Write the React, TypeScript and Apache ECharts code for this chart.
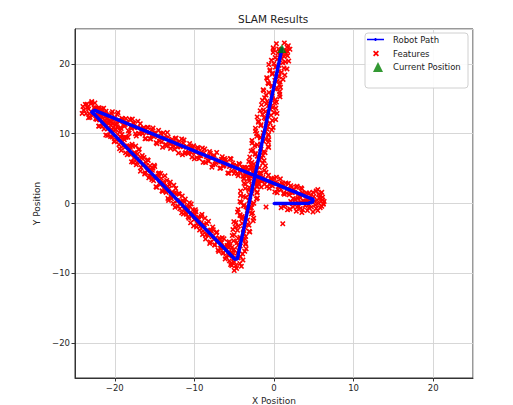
import React, { useEffect, useRef } from "react";
import * as echarts from "echarts";

// Robot path vertices (x, y)
const robotPath: number[][] = [
  [0, 0], [4.4, 0.05], [4.85, 0.25], [4.9, 0.6], [-22.5, 13.35], [-22.9, 13.1], [-22.6, 12.8],
  [-4.95, -7.95], [-4.6, -7.9], [1.0, 22.2],
];

const currentPosition: number[][] = [[1.0, 22.2]];

const featuresLegA: number[][] = [
  [4.4, 1.49], [4.2, 0.38], [4.0, 1.07], [3.8, 0.16], [3.6, 1.55], [3.4, 2.25], [3.2, 1.14], [3.0, 0.73],
  [2.8, 2.32], [2.6, 1.61], [2.4, 0.71], [2.2, 2.30], [2.0, 1.59], [1.8, 2.88], [1.6, 1.47], [1.4, 2.37],
  [1.2, 1.46], [1.0, 2.95], [0.8, 3.54], [0.6, 2.43], [0.4, 1.53], [0.2, 3.02], [0.0, 3.61], [-0.2, 2.50],
  [-0.4, 3.49], [-0.6, 2.19], [-0.8, 3.18], [-1.0, 4.47], [-1.2, 2.76], [-1.4, 3.75], [-1.6, 2.35], [-1.8, 4.34],
  [-2.0, 3.23], [-2.2, 3.92], [-2.4, 3.01], [-2.6, 4.41], [-2.8, 5.10], [-3.0, 3.99], [-3.2, 3.58], [-3.4, 5.17],
  [-3.6, 4.47], [-3.8, 3.56], [-4.0, 5.15], [-4.2, 4.44], [-4.4, 5.73], [-4.6, 4.33], [-4.8, 5.22], [-5.0, 4.31],
  [-5.2, 5.80], [-5.4, 6.39], [-5.6, 5.29], [-5.8, 4.38], [-6.0, 5.87], [-6.2, 6.46], [-6.4, 5.35], [-6.6, 6.35],
  [-6.8, 5.04], [-7.0, 6.03], [-7.2, 7.32], [-7.4, 5.61], [-7.6, 6.61], [-7.8, 5.20], [-8.0, 7.19], [-8.2, 6.08],
  [-8.4, 6.77], [-8.6, 5.87], [-8.8, 7.26], [-9.0, 7.95], [-9.2, 6.84], [-9.4, 6.43], [-9.6, 8.03], [-9.8, 7.32],
  [-10.0, 6.41], [-10.2, 8.00], [-10.4, 7.29], [-10.6, 8.59], [-10.8, 7.18], [-11.0, 8.07], [-11.2, 7.16], [-11.4, 8.65],
  [-11.6, 9.25], [-11.8, 8.14], [-12.0, 7.23], [-12.2, 8.72], [-12.4, 9.31], [-12.6, 8.21], [-12.8, 9.20], [-13.0, 7.89],
  [-13.2, 8.88], [-13.4, 10.17], [-13.6, 8.47], [-13.8, 9.46], [-14.0, 8.05], [-14.2, 10.04], [-14.4, 8.93], [-14.6, 9.63],
  [-14.8, 8.72], [-15.0, 10.11], [-15.2, 10.80], [-15.4, 9.69], [-15.6, 9.29], [-15.8, 10.88], [-16.0, 10.17], [-16.2, 9.26],
  [-16.4, 10.85], [-16.6, 10.15], [-16.8, 11.44], [-17.0, 10.03], [-17.2, 10.92], [-17.4, 10.01], [-17.6, 11.51], [-17.8, 12.10],
  [-18.0, 10.99], [-18.2, 10.08], [-18.4, 11.57], [-18.6, 12.17], [-18.8, 11.06], [-19.0, 12.05], [-19.2, 10.74], [-19.4, 11.73],
  [-19.6, 13.03], [-19.8, 11.32], [-20.0, 12.31], [-20.2, 10.90], [-20.4, 12.89], [-20.6, 11.79], [-20.8, 12.48], [-21.0, 11.57],
  [-21.2, 12.96], [-21.4, 13.65], [-21.6, 12.55], [-21.8, 12.14], [-22.0, 13.73], [-22.2, 13.02], [-22.4, 12.11], [-22.6, 13.71],
  [-22.8, 13.00], [-23.0, 14.29], [-23.2, 12.88], [-23.4, 13.77], [-23.6, 12.87],
  [-23.9, 13.4], [-24.1, 12.9], [-23.7, 14.2], [-22.9, 14.6], [-23.3, 12.3], [-24.0, 13.9], [-22.5, 14.4],
  [4.3, 0.53], [4.1, 1.52], [3.9, 0.22], [3.7, 1.31], [3.5, 2.10], [3.3, 0.79], [3.1, 1.38], [2.9, 2.48],
  [2.7, 0.57], [2.5, 2.06], [2.3, 1.55], [2.1, 2.54], [1.9, 1.24], [1.7, 2.13], [1.5, 2.92], [1.3, 1.31],
  [1.1, 2.80], [0.9, 2.00], [0.7, 2.79], [0.5, 1.98], [0.3, 3.77], [0.1, 1.66], [-0.1, 2.86], [-0.3, 3.55],
  [-0.5, 2.74], [-0.7, 4.03], [-0.9, 2.42], [-1.1, 3.52], [-1.3, 3.31], [-1.5, 3.20], [-1.7, 4.19], [-1.9, 2.88],
  [-2.1, 3.98], [-2.3, 4.77], [-2.5, 3.46], [-2.7, 4.05], [-2.9, 5.14], [-3.1, 3.24], [-3.3, 4.73], [-3.5, 4.22],
  [-3.7, 5.21], [-3.9, 3.90], [-4.1, 4.80], [-4.3, 5.59], [-4.5, 3.98], [-4.7, 5.47], [-4.9, 4.66], [-5.1, 5.46],
  [-5.3, 4.65], [-5.5, 6.44], [-5.7, 4.33], [-5.9, 5.52], [-6.1, 6.22], [-6.3, 5.41], [-6.5, 6.70], [-6.7, 5.09],
  [-6.9, 6.18], [-7.1, 5.98], [-7.3, 5.87], [-7.5, 6.86], [-7.7, 5.55], [-7.9, 6.64], [-8.1, 7.44], [-8.3, 6.13],
  [-8.5, 6.72], [-8.7, 7.81], [-8.9, 5.90], [-9.1, 7.40], [-9.3, 6.89], [-9.5, 7.88], [-9.7, 6.57], [-9.9, 7.46],
  [-10.1, 8.26], [-10.3, 6.65], [-10.5, 8.14], [-10.7, 7.33], [-10.9, 8.12], [-11.1, 7.32], [-11.3, 9.11], [-11.5, 7.00],
  [-11.7, 8.19], [-11.9, 8.88], [-12.1, 8.08], [-12.3, 9.37], [-12.5, 7.76], [-12.7, 8.85], [-12.9, 8.64], [-13.1, 8.54],
  [-13.3, 9.53], [-13.5, 8.22], [-13.7, 9.31], [-13.9, 10.10], [-14.1, 8.80], [-14.3, 9.39], [-14.5, 10.48], [-14.7, 8.57],
  [-14.9, 10.06], [-15.1, 9.56], [-15.3, 10.55], [-15.5, 9.24], [-15.7, 10.13], [-15.9, 10.92], [-16.1, 9.32], [-16.3, 10.81],
  [-16.5, 10.00], [-16.7, 10.79], [-16.9, 9.98], [-17.1, 11.78], [-17.3, 9.67], [-17.5, 10.86], [-17.7, 11.55], [-17.9, 10.74],
  [-18.1, 12.04], [-18.3, 10.43], [-18.5, 11.52], [-18.7, 11.31], [-18.9, 11.20], [-19.1, 12.20], [-19.3, 10.89], [-19.5, 11.98],
  [-19.7, 12.77], [-19.9, 11.46], [-20.1, 12.06], [-20.3, 13.15], [-20.5, 11.24], [-20.7, 12.73], [-20.9, 12.22], [-21.1, 13.22],
  [-21.3, 11.91], [-21.5, 12.80], [-21.7, 13.59], [-21.9, 11.98], [-22.1, 13.48], [-22.3, 12.67], [-22.5, 13.46], [-22.7, 12.65],
  [-22.9, 14.44], [-23.1, 12.34], [-23.3, 13.53], [-23.5, 14.22],
];

const featuresLegB: number[][] = [
  [-22.4, 13.72], [-22.25, 12.05], [-22.1, 12.67], [-21.95, 11.09], [-21.8, 12.61], [-21.65, 13.23], [-21.5, 11.45], [-21.35, 10.67],
  [-21.2, 12.40], [-21.05, 11.22], [-20.9, 9.74], [-20.75, 11.46], [-20.6, 10.28], [-20.45, 11.70], [-20.3, 9.53], [-20.15, 10.45],
  [-20.0, 8.97], [-19.85, 10.59], [-19.7, 11.01], [-19.55, 9.33], [-19.4, 7.85], [-19.25, 9.48], [-19.1, 9.90], [-18.95, 8.22],
  [-18.8, 9.14], [-18.65, 7.26], [-18.5, 8.28], [-18.35, 9.50], [-18.2, 7.13], [-18.05, 8.05], [-17.9, 5.97], [-17.75, 8.19],
  [-17.6, 6.51], [-17.45, 7.13], [-17.3, 5.56], [-17.15, 7.08], [-17.0, 7.70], [-16.85, 5.92], [-16.7, 5.14], [-16.55, 6.86],
  [-16.4, 5.68], [-16.25, 4.21], [-16.1, 5.93], [-15.95, 4.75], [-15.8, 6.17], [-15.65, 3.99], [-15.5, 4.91], [-15.35, 3.43],
  [-15.2, 5.06], [-15.05, 5.48], [-14.9, 3.80], [-14.75, 2.32], [-14.6, 3.94], [-14.45, 4.36], [-14.3, 2.69], [-14.15, 3.61],
  [-14.0, 1.73], [-13.85, 2.75], [-13.7, 3.97], [-13.55, 1.59], [-13.4, 2.51], [-13.25, 0.44], [-13.1, 2.66], [-12.95, 0.98],
  [-12.8, 1.60], [-12.65, 0.02], [-12.5, 1.54], [-12.35, 2.16], [-12.2, 0.39], [-12.05, -0.39], [-11.9, 1.33], [-11.75, 0.15],
  [-11.6, -1.33], [-11.45, 0.39], [-11.3, -0.79], [-11.15, 0.64], [-11.0, -1.54], [-10.85, -0.62], [-10.7, -2.10], [-10.55, -0.48],
  [-10.4, -0.06], [-10.25, -1.73], [-10.1, -3.21], [-9.95, -1.59], [-9.8, -1.17], [-9.65, -2.85], [-9.5, -1.93], [-9.35, -3.81],
  [-9.2, -2.78], [-9.05, -1.56], [-8.9, -3.94], [-8.75, -3.02], [-8.6, -5.10], [-8.45, -2.88], [-8.3, -4.56], [-8.15, -3.93],
  [-8.0, -5.51], [-7.85, -3.99], [-7.7, -3.37], [-7.55, -5.15], [-7.4, -5.93], [-7.25, -4.20], [-7.1, -5.38], [-6.95, -6.86],
  [-6.8, -5.14], [-6.65, -6.32], [-6.5, -4.90], [-6.35, -7.08], [-6.2, -6.15], [-6.05, -7.63], [-5.9, -6.01], [-5.75, -5.59],
  [-5.6, -7.27], [-5.45, -8.75], [-5.3, -7.13], [-5.15, -6.70], [-5.0, -8.38],
  [-5.3, -8.9], [-4.7, -9.3], [-4.3, -8.6], [-5.0, -9.6], [-4.5, -7.8], [-5.6, -8.2], [-4.1, -9.0], [-3.9, -8.1], [-4.8, -8.9],
  [-22.33, 12.24], [-22.18, 13.66], [-22.03, 11.08], [-21.88, 12.50], [-21.73, 13.42], [-21.58, 11.04], [-21.43, 11.66], [-21.28, 12.99],
  [-21.13, 9.81], [-20.98, 11.73], [-20.83, 10.75], [-20.68, 11.77], [-20.53, 9.59], [-20.38, 10.62], [-20.23, 11.44], [-20.08, 8.86],
  [-19.93, 10.58], [-19.78, 9.10], [-19.63, 9.92], [-19.48, 8.44], [-19.33, 10.47], [-19.18, 7.59], [-19.03, 8.91], [-18.88, 9.43],
  [-18.73, 8.05], [-18.58, 9.47], [-18.43, 6.99], [-18.28, 8.22], [-18.13, 7.64], [-17.98, 7.06], [-17.83, 8.48], [-17.68, 5.90],
  [-17.53, 7.32], [-17.38, 8.24], [-17.23, 5.87], [-17.08, 6.49], [-16.93, 7.81], [-16.78, 4.63], [-16.63, 6.55], [-16.48, 5.57],
  [-16.33, 6.60], [-16.18, 4.42], [-16.03, 5.44], [-15.88, 6.26], [-15.73, 3.68], [-15.58, 5.40], [-15.43, 3.92], [-15.28, 4.75],
  [-15.13, 3.27], [-14.98, 5.29], [-14.83, 2.41], [-14.68, 3.73], [-14.53, 4.25], [-14.38, 2.88], [-14.23, 4.30], [-14.08, 1.82],
  [-13.93, 3.04], [-13.78, 2.46], [-13.63, 1.88], [-13.48, 3.30], [-13.33, 0.73], [-13.18, 2.15], [-13.03, 3.07], [-12.88, 0.69],
  [-12.73, 1.31], [-12.58, 2.63], [-12.43, -0.55], [-12.28, 1.38], [-12.13, 0.40], [-11.98, 1.42], [-11.83, -0.76], [-11.68, 0.26],
  [-11.53, 1.08], [-11.38, -1.50], [-11.23, 0.23], [-11.08, -1.25], [-10.93, -0.43], [-10.78, -1.91], [-10.63, 0.11], [-10.48, -2.77],
  [-10.33, -1.45], [-10.18, -0.92], [-10.03, -2.30], [-9.88, -0.88], [-9.73, -3.36], [-9.58, -2.14], [-9.43, -2.72], [-9.28, -3.29],
  [-9.13, -1.87], [-8.98, -4.45], [-8.83, -3.03], [-8.68, -2.11], [-8.53, -4.49], [-8.38, -3.87], [-8.23, -2.54], [-8.08, -5.72],
  [-7.93, -3.80], [-7.78, -4.78], [-7.63, -3.76], [-7.48, -5.94], [-7.33, -4.92], [-7.18, -4.09], [-7.03, -6.67], [-6.88, -4.95],
  [-6.73, -6.43], [-6.58, -5.61], [-6.43, -7.09], [-6.28, -5.06], [-6.13, -7.94], [-5.98, -6.62], [-5.83, -6.10], [-5.68, -7.48],
  [-5.53, -6.06], [-5.38, -8.54], [-5.23, -7.31], [-5.08, -7.89],
];

const featuresLegC: number[][] = [
  [-4.22, -7.6], [-5.57, -7.35], [-4.62, -7.1], [-3.68, -6.85], [-5.03, -6.6], [-5.68, -6.35], [-4.23, -6.1], [-3.58, -5.85],
  [-4.63, -5.6], [-5.08, -5.35], [-3.63, -5.1], [-4.28, -4.85], [-5.24, -4.6], [-3.79, -4.35], [-3.04, -4.1], [-4.59, -3.85],
  [-3.84, -3.6], [-4.89, -3.35], [-3.14, -3.1], [-3.99, -2.85], [-5.05, -2.6], [-3.30, -2.35], [-2.55, -2.1], [-4.00, -1.85],
  [-4.25, -1.6], [-2.70, -1.35], [-3.35, -1.1], [-4.50, -0.85], [-2.85, -0.6], [-3.81, -0.35], [-2.76, -0.1], [-4.11, 0.15],
  [-3.16, 0.4], [-2.21, 0.65], [-3.56, 0.9], [-4.21, 1.15], [-2.76, 1.4], [-2.11, 1.65], [-3.17, 1.9], [-3.62, 2.15],
  [-2.17, 2.4], [-2.82, 2.65], [-3.77, 2.9], [-2.32, 3.15], [-1.57, 3.4], [-3.12, 3.65], [-2.38, 3.9], [-3.43, 4.15],
  [-1.68, 4.4], [-2.53, 4.65], [-3.58, 4.9], [-1.83, 5.15], [-1.08, 5.4], [-2.53, 5.65], [-2.78, 5.9], [-1.24, 6.15],
  [-1.89, 6.4], [-3.04, 6.65], [-1.39, 6.9], [-2.34, 7.15], [-1.29, 7.4], [-2.64, 7.65], [-1.69, 7.9], [-0.74, 8.15],
  [-2.10, 8.4], [-2.75, 8.65], [-1.30, 8.9], [-0.65, 9.15], [-1.70, 9.4], [-2.15, 9.65], [-0.70, 9.9], [-1.35, 10.15],
  [-2.31, 10.4], [-0.86, 10.65], [-0.11, 10.9], [-1.66, 11.15], [-0.91, 11.4], [-1.96, 11.65], [-0.21, 11.9], [-1.06, 12.15],
  [-2.11, 12.4], [-0.37, 12.65], [0.38, 12.9], [-1.07, 13.15], [-1.32, 13.4], [0.23, 13.65], [-0.42, 13.9], [-1.57, 14.15],
  [0.08, 14.4], [-0.87, 14.65], [0.18, 14.9], [-1.18, 15.15], [-0.23, 15.4], [0.72, 15.65], [-0.63, 15.9], [-1.28, 16.15],
  [0.17, 16.4], [0.82, 16.65], [-0.23, 16.9], [-0.69, 17.15], [0.76, 17.4], [0.11, 17.65], [-0.84, 17.9], [0.61, 18.15],
  [1.36, 18.4], [-0.19, 18.65], [0.56, 18.9], [-0.50, 19.15], [1.25, 19.4], [0.40, 19.65], [-0.65, 19.9], [1.10, 20.15],
  [1.85, 20.4], [0.40, 20.65], [0.15, 20.9], [1.70, 21.15], [1.05, 21.4], [-0.11, 21.65], [1.54, 21.9], [0.59, 22.15],
  [1.64, 22.4],
  [1.8, 22.6], [0.3, 22.9], [1.3, 23.0], [0.7, 21.8], [2.0, 22.1], [-0.1, 22.3], [1.5, 21.6],
  [-5.20, -7.48], [-3.95, -7.23], [-5.70, -6.98], [-4.45, -6.73], [-3.50, -6.48], [-5.25, -6.23], [-4.50, -5.98], [-3.56, -5.73],
  [-5.61, -5.48], [-3.86, -5.23], [-4.51, -4.98], [-3.56, -4.73], [-5.01, -4.48], [-3.86, -4.23], [-3.11, -3.98], [-5.16, -3.73],
  [-3.62, -3.48], [-4.47, -3.23], [-3.32, -2.98], [-4.77, -2.73], [-2.62, -2.48], [-4.07, -2.23], [-3.62, -1.98], [-4.27, -1.73],
  [-2.83, -1.48], [-4.58, -1.23], [-3.33, -0.98], [-2.98, -0.73], [-3.53, -0.48], [-3.78, -0.23], [-2.53, 0.03], [-4.28, 0.28],
  [-3.03, 0.53], [-2.09, 0.78], [-3.84, 1.03], [-3.09, 1.28], [-2.14, 1.53], [-4.19, 1.78], [-2.44, 2.03], [-3.09, 2.28],
  [-2.14, 2.53], [-3.59, 2.78], [-2.45, 3.03], [-1.70, 3.28], [-3.75, 3.53], [-2.20, 3.78], [-3.05, 4.03], [-1.90, 4.28],
  [-3.35, 4.53], [-1.20, 4.78], [-2.66, 5.03], [-2.21, 5.28], [-2.86, 5.53], [-1.41, 5.78], [-3.16, 6.03], [-1.91, 6.28],
  [-1.56, 6.53], [-2.11, 6.78], [-2.36, 7.03], [-1.12, 7.28], [-2.87, 7.53], [-1.62, 7.78], [-0.67, 8.03], [-2.42, 8.28],
  [-1.67, 8.53], [-0.72, 8.78], [-2.77, 9.03], [-1.02, 9.28], [-1.68, 9.53], [-0.73, 9.78], [-2.18, 10.03], [-1.03, 10.28],
  [-0.28, 10.53], [-2.33, 10.78], [-0.78, 11.03], [-1.63, 11.28], [-0.49, 11.53], [-1.94, 11.78], [0.21, 12.03], [-1.24, 12.28],
  [-0.79, 12.53], [-1.44, 12.78], [0.01, 13.03], [-1.74, 13.28], [-0.49, 13.53], [-0.15, 13.78], [-0.70, 14.03], [-0.95, 14.28],
  [0.30, 14.53], [-1.45, 14.78], [-0.20, 15.03], [0.75, 15.28], [-1.00, 15.53], [-0.25, 15.78], [0.70, 16.03], [-1.36, 16.28],
  [0.39, 16.53], [-0.26, 16.78], [0.69, 17.03], [-0.76, 17.28], [0.39, 17.53], [1.14, 17.78], [-0.92, 18.03], [0.63, 18.28],
  [-0.22, 18.53], [0.93, 18.78], [-0.52, 19.03], [1.63, 19.28], [0.18, 19.53], [0.63, 19.78], [-0.02, 20.03], [1.43, 20.28],
  [-0.33, 20.53], [0.92, 20.78], [1.27, 21.03], [0.72, 21.28], [0.47, 21.53], [1.72, 21.78], [-0.03, 22.03],
];

const featuresStart: number[][] = [
  [0.9, -0.6], [1.4, -0.2], [1.7, -0.9], [2.1, 0.3], [2.4, -0.5], [2.8, -1.1], [3.0, 0.1], [3.3, -0.7],
  [3.7, 0.4], [3.9, -0.3], [4.2, -1.0], [4.5, 0.2], [4.7, -0.5], [5.0, 1.0], [5.2, -0.2], [5.4, 0.5],
  [5.6, 1.3], [5.8, -0.6], [5.9, 0.3], [6.1, 0.9], [6.2, -0.1], [6.1, 0.5], [5.5, -1.0], [4.9, -1.2],
  [6.0, 1.6], [5.3, 1.8], [4.6, 1.1], [6.2, 0.0], [3.5, -1.3], [2.6, 0.6],
  [1.2, -0.4], [2.0, -0.8], [2.3, 0.0], [3.1, -0.4], [3.6, -0.9], [4.0, 0.3], [4.4, -0.6], [4.8, 0.6],
  [5.1, 0.3], [5.7, 0.8], [5.3, -0.7], [6.3, 0.3], [5.8, 1.1], [4.3, -0.2], [3.4, 0.2], [2.9, -0.5],
  [5.6, 0.0], [6.0, -0.4], [4.9, 1.6], [5.5, 2.0],
];

const featuresOutliers: number[][] = [[-1.0, -0.5], [1.1, -2.9]];

const xTicks = [-20, -10, 0, 10, 20];
const yTicks = [-20, -10, 0, 10, 20];

const X_SYMBOL =
  "path://M0,2L2,0L5,3L8,0L10,2L7,5L10,8L8,10L5,7L2,10L0,8L3,5Z";
const LINE_ICON =
  "path://M0,4.3L17,4.3L17,5.7L0,5.7Z M7.3,5L7.8,3.6L9.2,3.6L9.7,5L9.2,6.4L7.8,6.4Z";

const FONT = "DejaVu Sans";
const fmt = (v: number) => (v < 0 ? "\u2212" + Math.abs(v) : String(v));

export default function App() {
  const ref = useRef<HTMLDivElement>(null);
  useEffect(() => {
    document.body.style.margin = "0";
    if (!ref.current) return;
    const chart = echarts.init(ref.current, null, { renderer: "svg" });
    const axisCommon = (ticks: number[]) => ({
      type: "value" as const,
      min: -25,
      max: 25,
      splitNumber: 5,
      axisLine: { show: true, onZero: false, lineStyle: { color: "#333", width: 1 } },
      axisTick: { show: true, length: 3.5, lineStyle: { color: "#333", width: 1 } },
      axisLabel: {
        show: true,
        fontFamily: FONT,
        fontSize: 8.5,
        color: "#262626",
        margin: 5,
        showMinLabel: false,
        showMaxLabel: false,
        formatter: (v: number) => (ticks.indexOf(v) >= 0 ? fmt(v) : ""),
      },
      splitLine: { show: true, lineStyle: { color: "#d3d3d3", width: 0.9 } },
      nameLocation: "middle" as const,
      nameTextStyle: { fontFamily: FONT, fontSize: 9, color: "#262626" },
    });
    const legendText = (pad: number) => ({
      fontFamily: FONT,
      fontSize: 8.5,
      color: "#222",
      padding: [0, 0, 0, pad],
    });
    chart.setOption({
      animation: false,
      backgroundColor: "#ffffff",
      title: {
        text: "SLAM Results",
        left: 238,
        top: 13,
        padding: 0,
        textStyle: { fontFamily: FONT, fontSize: 10.5, fontWeight: "normal", color: "#222" },
      },
      grid: {
        left: 75,
        right: 40,
        top: 29,
        bottom: 27,
        show: true,
        borderColor: "#333",
        borderWidth: 1,
        backgroundColor: "transparent",
        containLabel: false,
        outerBoundsMode: "none",
      },
      xAxis: { ...axisCommon(xTicks), name: "X Position", nameGap: 17 },
      yAxis: { ...axisCommon(yTicks), name: "Y Position", nameGap: 27 },
      graphic: [
        {
          type: "rect",
          z: 50,
          shape: { x: 365, y: 33, width: 103, height: 55, r: 3 },
          style: { fill: "rgba(255,255,255,0.9)", stroke: "#d0d0d0", lineWidth: 1 },
        },
      ],
      legend: [
        {
          z: 60,
          data: [{ name: "Robot Path", icon: LINE_ICON }],
          left: 367,
          top: 35,
          padding: 0,
          itemWidth: 17,
          itemHeight: 8,
          textStyle: legendText(4),
        },
        {
          z: 60,
          data: [{ name: "Features", icon: X_SYMBOL }],
          left: 373,
          top: 49,
          padding: 0,
          itemWidth: 6,
          itemHeight: 6,
          textStyle: legendText(9),
        },
        {
          z: 60,
          data: [{ name: "Current Position", icon: "triangle" }],
          left: 373,
          top: 62,
          padding: 0,
          itemWidth: 10,
          itemHeight: 10,
          textStyle: legendText(5),
        },
      ],
      series: [
        {
          name: "Features",
          type: "scatter",
          z: 2,
          symbol: X_SYMBOL,
          symbolSize: 5.5,
          itemStyle: { color: "#ff0000", opacity: 1 },
          data: [
            ...featuresLegA,
            ...featuresLegB,
            ...featuresLegC,
            ...featuresStart,
            ...featuresOutliers,
          ],
        },
        {
          name: "Robot Path",
          type: "line",
          z: 3,
          symbol: "circle",
          symbolSize: 3,
          showSymbol: true,
          itemStyle: { color: "#0000ff" },
          lineStyle: { color: "#0000ff", width: 3.5 },
          data: robotPath,
        },
        {
          name: "Current Position",
          type: "scatter",
          z: 4,
          symbol: "triangle",
          symbolSize: 9,
          itemStyle: { color: "#008000" },
          data: currentPosition,
        },
      ],
    });
    return () => chart.dispose();
  }, []);
  return (
    <div
      ref={ref}
      style={{ position: "fixed", left: 0, top: 0, width: 513, height: 405 }}
    />
  );
}
